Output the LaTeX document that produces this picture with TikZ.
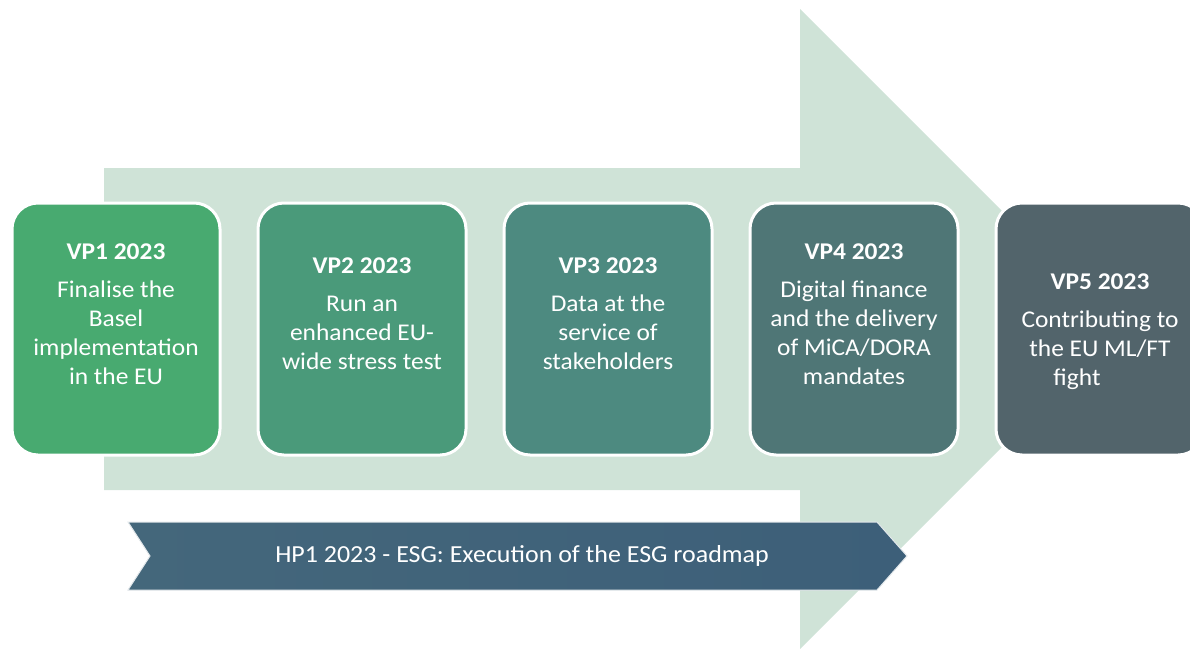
\documentclass[tikz,border=0pt]{standalone}
\usepackage{fontspec}
\setmainfont[FakeStretch=1.06]{Carlito}
\definecolor{shaft}{HTML}{CFE3D7}
\definecolor{cA}{HTML}{48AA70}
\definecolor{cB}{HTML}{4A9A7A}
\definecolor{cC}{HTML}{4D8A80}
\definecolor{cD}{HTML}{4F7676}
\definecolor{cE}{HTML}{52646B}
\definecolor{bnL}{HTML}{44677B}
\definecolor{bnR}{HTML}{3D5F79}
\tikzset{
  vpbox/.style={rounded corners=26pt, draw=white, line width=3pt, minimum width=208pt, minimum height=252pt, anchor=north west, inner sep=0pt, outer sep=0pt},
  vptext/.style={text=white, align=center, inner sep=0pt, font=\fontsize{24}{29}\selectfont}
}
\begin{document}
\begin{tikzpicture}[x=1pt,y=-1pt]
\useasboundingbox (0,0) rectangle (1190,648);
\clip (0,0) rectangle (1190,648);
% big background arrow
\fill[shaft] (104,168) -- (800,168) -- (800,9) -- (1120,329) -- (800,649) -- (800,490) -- (104,490) -- cycle;
% boxes
\node[vpbox, fill=cA] (vp1) at (12,203) {};
\node[vpbox, fill=cB] (vp2) at (258,203) {};
\node[vpbox, fill=cC] (vp3) at (504,203) {};
\node[vpbox, fill=cD] (vp4) at (750,203) {};
\node[vpbox, fill=cE] (vp5) at (996,203) {};
% texts
\node[vptext] (t1) at ([yshift=15pt]vp1.center) {{\bfseries VP1 2023}\\[9pt]Finalise the\\Basel\\implementation\\in the EU};
\node[vptext] (t2) at ([yshift=15pt]vp2.center) {{\bfseries VP2 2023}\\[9pt]Run an\\enhanced EU-\\wide stress test};
\node[vptext] (t3) at ([yshift=15pt]vp3.center) {{\bfseries VP3 2023}\\[9pt]Data at the\\service of\\stakeholders};
\node[vptext] (t4) at ([yshift=15pt]vp4.center) {{\bfseries VP4 2023}\\[9pt]Digital finance\\and the delivery\\of MiCA/DORA\\mandates};
\node[vptext] (t5) at ([yshift=-3pt]vp5.center) {{\bfseries VP5 2023}\\[9pt]Contributing to\\the EU ML/FT\\fight\hspace*{46pt}};
% horizontal priority banner
\shade[left color=bnL, right color=bnR, draw=white!85!bnL, line width=1pt] (128,522) -- (877,522) -- (907,556) -- (877,590) -- (128,590) -- (150,556) -- cycle;
\node[text=white, font=\fontsize{24.5}{28}\selectfont, inner sep=0pt] (hp1) at (522,556) {HP1 2023 - ESG: Execution of the ESG roadmap};
\end{tikzpicture}
\end{document}
